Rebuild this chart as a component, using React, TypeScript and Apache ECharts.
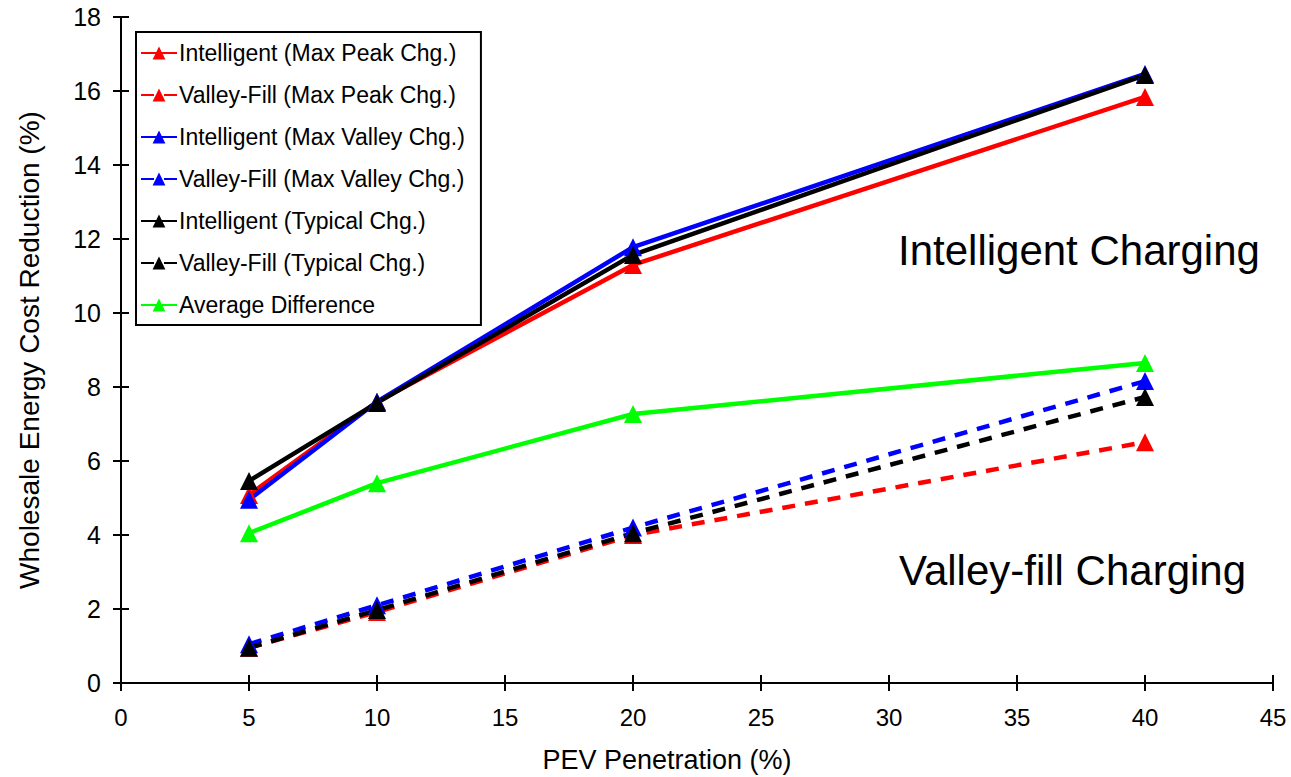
import React, { useEffect, useRef } from "react";
import * as echarts from "echarts";

const penetration = [5, 10, 20, 40];
const intelligentMaxPeak = [5.08, 7.6, 11.3, 15.84];
const valleyFillMaxPeak = [0.95, 1.92, 4.0, 6.51];
const intelligentMaxValley = [4.95, 7.6, 11.78, 16.46];
const valleyFillMaxValley = [1.05, 2.1, 4.2, 8.16];
const intelligentTypical = [5.46, 7.57, 11.57, 16.43];
const valleyFillTypical = [0.95, 1.97, 4.05, 7.73];
const averageDifference = [4.05, 5.4, 7.27, 8.65];

const seriesNames = [
  "Intelligent (Max Peak Chg.)",
  "Valley-Fill (Max Peak Chg.)",
  "Intelligent (Max Valley Chg.)",
  "Valley-Fill (Max Valley Chg.)",
  "Intelligent (Typical Chg.)",
  "Valley-Fill (Typical Chg.)",
  "Average Difference",
];

const FONT = "'Liberation Sans', Arial, sans-serif";

export default function App() {
  const ref = useRef<HTMLDivElement>(null);
  useEffect(() => {
    if (!ref.current) return;
    const chart = echarts.init(ref.current, undefined, { renderer: "svg" });
    const mk = (name: string, data: number[], color: string, dashed: boolean) => ({
      name,
      type: "line",
      data: penetration.map((x, i) => [x, data[i]]),
      symbol: "triangle",
      symbolSize: 18,
      lineStyle: { color, width: 4.5, type: dashed ? [13, 10] : "solid" },
      itemStyle: { color },
      z: 3,
    });
    const option = {
      animation: false,
      textStyle: { fontFamily: FONT },
      grid: { left: 121, right: 18, top: 17, bottom: 94, containLabel: false },
      legend: {
        orient: "vertical",
        left: 136,
        top: 32,
        padding: [9.5, 16, 8.5, 4],
        itemGap: 19,
        itemWidth: 36,
        itemHeight: 16,
        borderColor: "#000",
        borderWidth: 2,
        backgroundColor: "#fff",
        textStyle: { fontSize: 23, color: "#000", fontFamily: FONT, padding: [0, 0, 0, -3] },
        data: seriesNames,
      },
      xAxis: [
        {
          type: "value",
          min: 0,
          max: 45,
          interval: 5,
          axisLine: { show: true, lineStyle: { color: "#000", width: 2 } },
          axisTick: { show: true, inside: true, length: 8, lineStyle: { color: "#000", width: 2 } },
          axisLabel: { fontSize: 24, color: "#000", margin: 22, fontFamily: FONT },
          splitLine: { show: false },
        },
        {
          type: "value",
          position: "top",
          min: 0,
          max: 45,
          interval: 5,
          axisLine: { show: true, lineStyle: { color: "#000", width: 2 } },
          axisTick: { show: true, inside: true, length: 8, lineStyle: { color: "#000", width: 2 } },
          axisLabel: { show: false },
          splitLine: { show: false },
        },
      ],
      yAxis: [
        {
          type: "value",
          min: 0,
          max: 18,
          interval: 2,
          name: "Wholesale Energy Cost Reduction (%)",
          nameLocation: "middle",
          nameGap: 78,
          nameTextStyle: { fontSize: 28, color: "#000", fontFamily: FONT },
          axisLine: { show: true, lineStyle: { color: "#000", width: 2 } },
          axisTick: { show: true, inside: true, length: 8, lineStyle: { color: "#000", width: 2 } },
          axisLabel: { fontSize: 25, color: "#000", margin: 20, fontFamily: FONT },
          splitLine: { show: false },
        },
        {
          type: "value",
          position: "right",
          min: 0,
          max: 18,
          interval: 2,
          axisLine: { show: true, lineStyle: { color: "#000", width: 2 } },
          axisTick: { show: true, inside: true, length: 8, lineStyle: { color: "#000", width: 2 } },
          axisLabel: { show: false },
          splitLine: { show: false },
        },
      ],
      graphic: [
        {
          type: "text",
          x: 667,
          y: 760,
          style: {
            text: "PEV Penetration (%)",
            fontSize: 27,
            fill: "#000",
            fontFamily: FONT,
            align: "center",
            verticalAlign: "middle",
          },
        },
        {
          type: "text",
          x: 898,
          y: 250,
          style: {
            text: "Intelligent Charging",
            fontSize: 42,
            fill: "#000",
            fontFamily: FONT,
            verticalAlign: "middle",
          },
        },
        {
          type: "text",
          x: 899,
          y: 570,
          style: {
            text: "Valley-fill Charging",
            fontSize: 42,
            fill: "#000",
            fontFamily: FONT,
            verticalAlign: "middle",
          },
        },
      ],
      series: [
        mk(seriesNames[0], intelligentMaxPeak, "#ff0000", false),
        mk(seriesNames[1], valleyFillMaxPeak, "#ff0000", true),
        mk(seriesNames[2], intelligentMaxValley, "#0000ff", false),
        mk(seriesNames[3], valleyFillMaxValley, "#0000ff", true),
        mk(seriesNames[4], intelligentTypical, "#000000", false),
        mk(seriesNames[5], valleyFillTypical, "#000000", true),
        mk(seriesNames[6], averageDifference, "#00ff00", false),
      ],
    };
    chart.setOption(option as any);
    return () => chart.dispose();
  }, []);
  return (
    <div
      ref={ref}
      style={{ position: "fixed", left: 0, top: 0, width: 1291, height: 777, background: "#fff" }}
    />
  );
}
